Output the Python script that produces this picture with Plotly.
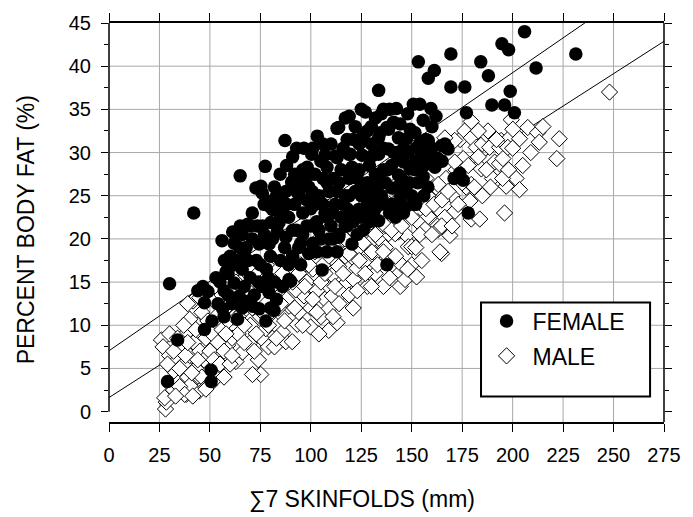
import plotly.graph_objects as go

# ---------------- data ----------------
female_sum7 = [
    30, 29, 34, 42, 47.3, 49, 47.3, 50.6, 50.6, 53,
    56.3, 58, 62, 56, 61.3, 64.6, 63.7, 57.2, 64.6, 67,
    69.5, 71.1, 74.4, 77.7, 81.8, 76, 79.3, 90, 65, 77.4,
    84.8, 87.2, 93, 96.6, 103.2, 100.4, 113, 117.1, 107, 113,
    98.2, 108, 90.5, 75.3, 76, 76.9, 81, 78.5, 87.6, 68.7,
    73.6, 83.4, 87.6, 74.4, 79.3, 119.6, 120.4, 94.1, 94.1, 100.7,
    80.2, 84.3, 119, 125, 133.6, 142.4, 150.8, 154, 159.5, 162,
    155.7, 153.3, 161.2, 158.2, 169.4, 184.2, 188, 169.4, 176.3, 194.7,
    198, 205.9, 231.3, 211.6, 198.8, 189.7, 196, 200.9, 177.1, 173.8,
    175.5, 178, 137.7, 163, 161.5, 151.7, 155.7, 144.3, 134.4, 138.5,
    151.6, 158.2, 164.8, 167.2, 113.8, 127, 145.9, 166.4, 168, 149.2,
    137.7, 133.6, 143.4, 147.5, 138.5, 142.6, 145.9, 149.2, 143.4, 140.1,
    144.3, 146.7, 112.2, 118.8, 125.4, 130.3, 133.6, 133.6, 120.4, 113.8,
    105.6, 99, 123.7, 89.2, 72.8, 79.3, 46.5, 55, 60, 66,
    70, 73, 68, 71, 78, 82, 85, 83, 86, 89,
    91, 92, 93, 95, 96, 97, 98, 100, 101, 102,
    103, 104, 105, 106, 107, 108, 109, 110, 111, 112,
    113, 114, 115, 116, 117, 118, 119, 120, 121, 122,
    123, 124, 125, 126, 127, 128, 129, 130, 131, 132,
    134, 135, 136, 137, 139, 140, 141, 142, 144, 146,
    148, 150, 152, 154, 156, 157, 160, 148, 139, 130,
    122, 110, 105, 96, 88, 82, 80, 76, 71, 65,
    62, 59, 54, 51, 44, 84, 92, 99, 101, 108,
    115, 128, 136, 143, 153, 165, 171, 87, 95, 103,
    111, 118, 126, 132, 69, 74, 80, 86, 57, 61,
    152, 158, 57, 66, 91, 118, 124, 134, 146, 155,
    59, 62, 63, 66, 67, 70, 72, 75, 77, 79,
    81, 83, 85, 88, 89, 91, 93, 94, 96, 98,
    100, 102, 104, 106, 108, 109, 111, 113, 114, 116,
    117, 119, 121, 123, 125, 127, 129, 131, 133, 135,
    137, 138, 140, 141, 143, 145, 147, 149, 151, 152,
    154, 156, 158, 160, 124, 128, 132, 136, 106, 100,
]
female_fat = [
    14.8, 3.5, 8.3, 23, 9.5, 13.9, 12.6, 4.8, 3.5, 15.5,
    11.9, 16.2, 14.9, 19.8, 20.8, 19, 10.7, 17.5, 13.4, 14.5,
    12.8, 12.2, 11.9, 10.5, 11.7, 14.5, 13.8, 15.1, 27.3, 28.4,
    27.5, 31.4, 30.5, 30.5, 31.9, 29.8, 32.8, 34, 29.7, 29.4,
    28.3, 28.3, 26.6, 26.1, 25.3, 24, 23.4, 24.4, 25.5, 21.7,
    21.5, 20.9, 20.2, 19.4, 19.4, 29.8, 28.3, 27, 25.1, 25.5,
    21.9, 21.9, 34.2, 35, 37.2, 35.1, 35.6, 35.6, 35.1, 34.2,
    33.75, 40.5, 39.5, 38.6, 41.4, 40.5, 38.9, 37.6, 37.6, 42.6,
    41.9, 44, 41.4, 39.8, 37.1, 35.5, 35.5, 34.6, 34.6, 27.6,
    26.8, 23, 17, 29.3, 28.3, 28, 27.2, 33.3, 32.3, 32.7,
    32.3, 31.4, 30.8, 30.6, 32.9, 34.7, 23, 31, 30.4, 32.7,
    32.9, 31.7, 31.7, 31.6, 30.4, 30, 28.9, 28.1, 27.4, 25.9,
    24.7, 23.6, 29.6, 29.8, 29.7, 29.6, 29.8, 22.1, 19.4, 20.2,
    16.4, 18.3, 23.4, 15.3, 25.9, 23.8, 14.5, 15, 18, 16.5,
    15.5, 17.5, 19, 23, 16.5, 15, 17.5, 13, 23.5, 22.5,
    18, 24, 21, 19.5, 23, 26.5, 21.5, 23.5, 19.5, 27.5,
    22, 25, 20, 27, 23, 18.5, 25.5, 21.5, 27, 24,
    18.5, 26.5, 22.5, 30.5, 25, 21.5, 27, 23, 31.5, 25.5,
    20.5, 28, 22.5, 32, 26, 24, 28.5, 31, 25, 27.5,
    24, 34.5, 28, 26.5, 23, 28.5, 33.5, 22.5, 29.5, 26,
    30, 25, 30.5, 29, 25, 31.5, 33, 34.5, 35, 33,
    33, 31, 29, 28, 28.5, 26, 18, 21.5, 20, 21.5,
    17, 13.5, 12.5, 10.5, 14, 24.5, 27.5, 26, 30.5, 26.5,
    28, 26.5, 30.5, 26, 26.5, 29, 27, 19, 17, 18.5,
    20, 23.5, 21, 23.5, 17.5, 15, 12, 14.5, 14, 12.5,
    24, 26, 11, 12, 29.5, 31.5, 25.5, 27, 30.5, 30,
    16, 19.5, 17.5, 20.5, 18.5, 21.5, 13.5, 17, 20.5, 15.5,
    20, 25, 22.5, 24, 17, 21, 25.5, 19, 20.5, 24.5,
    21.5, 24, 21, 24, 22.5, 20, 23, 25.5, 20.5, 24,
    21.5, 25, 22, 27, 25, 23, 22, 23, 26, 25,
    24, 28, 24, 30, 23.5, 27, 25.5, 26.5, 24, 29,
    31, 28.5, 29.5, 30.5, 31, 32.5, 34, 35, 31, 27.5,
]

male_sum7 = [
    28, 28.4, 27.6, 26, 26.8, 41.6, 62.9, 66.2, 58.8, 69.5,
    76, 77.7, 82.6, 87.6, 90.8, 85.9, 93.3, 89.2, 94.1, 96.6,
    92.5, 41.6, 38.3, 44.8, 49.8, 53.1, 75.2, 71.1, 30, 31,
    30, 32, 33, 34, 35, 36, 37, 38, 39, 40,
    42, 43, 44, 45, 46, 46, 47, 48, 48, 49,
    50, 51, 52, 53, 54, 55, 55, 56, 57, 58,
    59, 60, 60, 61, 62, 63, 64, 65, 66, 67,
    68, 70, 71, 72, 73, 74, 75, 77, 78, 79,
    80, 83, 84, 86, 88, 90, 91, 95, 97, 98,
    99.9, 100, 101, 102, 103, 104, 105, 106, 107, 108,
    108.9, 108.9, 110.6, 110.6, 112, 113, 113.8, 115.5, 116, 117,
    118, 119, 120.4, 121.2, 122, 122.9, 124, 125, 126.2, 127,
    128, 129.5, 130, 131.9, 131.9, 133, 134, 135, 136, 137,
    138.5, 139, 140, 141, 142, 143.4, 144.3, 145, 146.7, 147.5,
    148.3, 149, 150, 151, 152.4, 153, 155, 156.6, 157, 158,
    159, 160, 163.1, 164.8, 166.4, 168.9, 171.4, 162, 164, 167,
    169, 170, 172, 174, 175.5, 176.3, 177, 178.8, 179.5, 179.5,
    179.5, 179.5, 182, 183.7, 184.5, 185, 186.9, 187.8, 188.6, 190,
    191.1, 193.5, 193.5, 194.3, 195.2, 196, 196.8, 198.5, 199.3, 200.1,
    197.6, 201.7, 203.4, 203.4, 207.5, 212.4, 213.2, 221.9, 223.1, 248,
    171.3, 166.4, 157.4, 171.3, 156.6, 163.1, 158.2, 164.8, 141.8, 150,
    138.5, 130.3, 118.8, 147.5, 153.3, 147.5, 164, 121, 104, 82,
    57, 40, 35, 37.5, 41.5, 48, 40, 37, 58, 61,
    64, 67, 69, 72, 74, 76, 79, 81, 83, 85,
    87, 89, 92, 94, 96, 97, 99, 101, 103, 105,
    106, 107, 109, 111, 112, 114, 116, 117, 119, 121,
    123, 124, 126, 127, 128, 130, 132, 133, 134, 136,
    137, 139, 140, 142, 143, 145, 148, 150, 152, 154,
    155, 157, 160, 161, 165, 168, 170, 173, 175, 178,
    181, 183, 185, 187, 189, 192, 195, 198, 200, 205,
    209, 215, 183, 29, 30, 32, 33, 34, 35, 38,
    39, 41, 43, 44, 39, 45, 52, 56, 63, 70,
]
male_fat = [
    0.3, 1.1, 1.6, 8.3, 7.5, 12.8, 5.8, 6.9, 7.7, 7.9,
    8.4, 9.6, 10, 8.1, 8.1, 9.2, 10.1, 12.2, 11.5, 13.4,
    14.1, 2.8, 2, 2.4, 3.1, 3.9, 4.3, 4.3, 3.2, 5,
    6.5, 2.5, 4.5, 6, 3.5, 7.5, 5.5, 9, 4, 6.5,
    8, 5, 10, 7, 4, 11.5, 6, 8.5, 2.8, 10.5,
    7, 9, 6, 11, 8, 13, 5.5, 9.5, 7, 12,
    10.5, 14, 5.5, 8.5, 11, 13, 9, 15, 11.5, 8,
    13.5, 10, 12, 16, 9, 6, 11, 13, 17, 7.5,
    11.5, 14, 12, 16, 13, 18, 15, 17, 19, 15,
    9.8, 12, 16.5, 18.5, 14, 20, 11, 17, 13, 21,
    11.9, 9.4, 15.8, 13.4, 19, 10.3, 16.8, 13.8, 22, 18,
    15, 20.5, 17.9, 15.3, 23, 16.6, 19, 21.5, 17.3, 24,
    14.5, 19.6, 22, 18.3, 16, 25, 20, 22.5, 14.5, 19,
    20.6, 24, 17, 26, 22, 20.8, 14.5, 17, 15.3, 20.4,
    19.1, 25, 17, 27, 15.6, 22, 24, 21.1, 27, 25,
    22.5, 29, 21.1, 18.3, 22.5, 20.4, 23.2, 26, 30, 27,
    31, 25, 28, 31.5, 29.3, 32.5, 26, 24.4, 22.3, 26.3,
    33.6, 31.7, 30.6, 22.3, 28.1, 31, 32.1, 32.5, 30.6, 27,
    28.9, 30.6, 28.7, 31.4, 29.3, 23, 26.1, 31.7, 33.8, 32.7,
    30.6, 27, 31.6, 25.7, 32.9, 32.3, 31.2, 29.3, 31.6, 37,
    31.4, 31.7, 30.6, 28.9, 25.9, 26.3, 22.6, 21.5, 20.6, 19.1,
    17.5, 18.5, 18.3, 23.4, 25.7, 31.2, 18.5, 12, 9, 7.5,
    4, 3, 2.9, 2, 1.8, 2.6, 10.7, 10, 9, 6.5,
    11, 10, 14, 7, 13.5, 11.5, 10, 14.5, 8.5, 12.5,
    10.5, 15, 12, 16, 10, 14.5, 17, 13, 11.5, 15,
    19.5, 16, 18, 11, 14.5, 12.5, 16, 20, 13.5, 21,
    14, 17.5, 19.5, 16, 22.5, 14.5, 20.5, 17, 23, 18.5,
    21.5, 15.5, 21, 18, 24.5, 21.5, 16.5, 22.5, 19, 20.5,
    17.5, 23.5, 20.5, 24, 24.5, 25.5, 21.5, 24, 26.5, 28.5,
    26, 29.5, 25, 28, 26, 31.5, 27, 28, 30.5, 28.5,
    30, 33, 32.5, 5.5, 9, 7, 1.8, 8.5, 5, 6.5,
    8, 4.5, 9.5, 6, 12.5, 13.2, 12.8, 13.5, 15, 17,
]

# regression lines (intercept, slope)
female_fit = (7.05, 0.161)
male_fit = (1.63, 0.150)

x_ticks = [0, 25, 50, 75, 100, 125, 150, 175, 200, 225, 250, 275]
y_ticks = [0, 5, 10, 15, 20, 25, 30, 35, 40, 45]
x_grid = [25, 50, 75, 100, 125, 150, 175, 200, 225, 250]
y_grid = [5, 10, 15, 20, 25, 30, 35, 40]

assert len(female_sum7) == len(female_fat)
assert len(male_sum7) == len(male_fat)

FONT = "Liberation Sans, Arial, Helvetica, sans-serif"
X_MAX = 275

fig = go.Figure()

line_x = [0, X_MAX]
for b0, b1 in (female_fit, male_fit):
    fig.add_trace(go.Scatter(
        x=line_x, y=[b0 + b1 * v for v in line_x], mode="lines",
        line=dict(color="black", width=1), showlegend=False, hoverinfo="skip"))

fig.add_trace(go.Scatter(
    x=male_sum7, y=male_fat, mode="markers", name="MALE",
    legendgroup="m", legendrank=2,
    marker=dict(symbol="diamond", size=12.5, color="white",
                line=dict(color="black", width=1))))
fig.add_trace(go.Scatter(
    x=female_sum7, y=female_fat, mode="markers", name="FEMALE",
    legendgroup="f", legendrank=1,
    marker=dict(symbol="circle", size=13.5, color="black",
                line=dict(width=0))))

shapes = []
for gx in x_grid:
    shapes.append(dict(type="line", xref="x", yref="paper", x0=gx, x1=gx, y0=0, y1=1,
                       line=dict(color="#a8a8a8", width=1), layer="below"))
for gy in y_grid:
    shapes.append(dict(type="line", xref="paper", yref="y", x0=0, x1=1, y0=gy, y1=gy,
                       line=dict(color="#a8a8a8", width=1), layer="below"))
# left axis line (0..45 only) and right frame line
shapes.append(dict(type="line", xref="paper", yref="y", x0=0, x1=0, y0=y_ticks[0], y1=y_ticks[-1],
                   line=dict(color="black", width=1.5), layer="above"))
shapes.append(dict(type="line", xref="paper", yref="paper", x0=1, x1=1, y0=0, y1=1,
                   line=dict(color="black", width=1.5), layer="above"))
# legend frame
shapes.append(dict(type="rect", xref="paper", yref="paper", x0=0.6703, x1=0.9749, y0=0.0639, y1=0.2998,
                   line=dict(color="black", width=2), fillcolor="white", layer="above"))

fig.update_layout(
    width=693, height=517,
    margin=dict(l=109, r=26, t=15, b=95),
    paper_bgcolor="white", plot_bgcolor="white",
    font=dict(family=FONT, color="black", size=20),
    shapes=shapes,
    showlegend=True,
    legend=dict(x=0.6695, y=0.307, xanchor="left", yanchor="top",
                bgcolor="rgba(0,0,0,0)", borderwidth=0, itemwidth=42,
                font=dict(family=FONT, size=23, color="black"),
                tracegroupgap=2, traceorder="grouped"),
    annotations=[
        dict(text="\u22117 SKINFOLDS (mm)", xref="paper", yref="paper", x=0.456, y=-0.192,
             xanchor="center", yanchor="middle", showarrow=False,
             font=dict(family=FONT, size=23, color="black")),
        dict(text="PERCENT BODY FAT (%)", xref="paper", yref="paper", x=-0.1505, y=0.4816,
             xanchor="center", yanchor="middle", textangle=-90, showarrow=False,
             font=dict(family=FONT, size=23, color="black")),
    ],
)

fig.update_xaxes(
    range=[0, X_MAX], tickmode="array", tickvals=x_ticks,
    ticks="outside", ticklen=8, tickwidth=1, tickcolor="black",
    showline=True, linecolor="black", linewidth=1.5, mirror="ticks",
    showgrid=False, zeroline=False, ticklabelstandoff=6,
    tickfont=dict(family=FONT, size=20, color="black"),
)
fig.update_yaxes(
    range=[-1.2, 45], tickmode="array", tickvals=y_ticks,
    ticks="outside", ticklen=7, tickwidth=1, tickcolor="black",
    minor=dict(dtick=2.5, ticks="outside", ticklen=4, tickcolor="black", showgrid=False),
    showline=False, mirror="ticks",
    showgrid=False, zeroline=False, ticklabelstandoff=6,
    tickfont=dict(family=FONT, size=20, color="black"),
)

fig.write_html("out.html")
